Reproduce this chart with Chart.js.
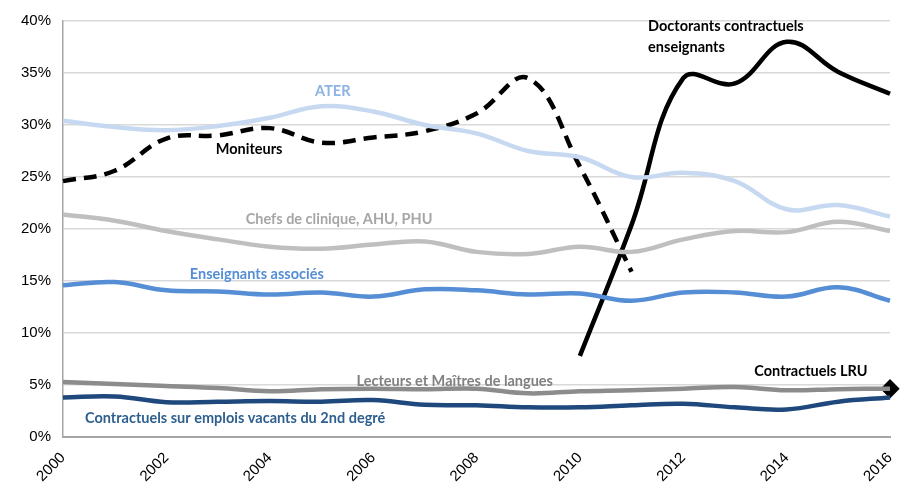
<!DOCTYPE html>
<html><head><meta charset="utf-8">
<script src="https://cdn.jsdelivr.net/npm/chart.js@4/dist/chart.umd.min.js"></script>
<style>html,body{margin:0;padding:0;background:#fff}#w{width:912px;height:488px}</style>
</head><body><div id="w"><canvas id="c" width="912" height="488"></canvas></div>
<script>
const years = ['2000','2001','2002','2003','2004','2005','2006','2007','2008','2009','2010','2011','2012','2013','2014','2015','2016'];
const yTicks = [0,5,10,15,20,25,30,35,40];
const ater = [30.4,29.8,29.5,29.9,30.7,31.8,31.3,30.0,29.2,27.5,26.9,25.0,25.4,24.6,21.9,22.3,21.2];
const moniteurs = [24.6,25.6,28.7,29.0,29.7,28.3,28.8,29.4,31.1,34.5,26.0,15.9,null,null,null,null,null];
const doctorants = [null,null,null,null,null,null,null,null,null,null,7.8,20.4,34.5,34.0,38.0,35.1,33.0];
const chefs = [21.4,20.8,19.8,19.0,18.3,18.1,18.5,18.8,17.8,17.6,18.3,17.8,19.0,19.8,19.7,20.7,19.8];
const associes = [14.6,14.9,14.1,14.0,13.7,13.9,13.5,14.2,14.1,13.7,13.8,13.1,13.9,13.9,13.5,14.4,13.1];
const lecteurs = [5.3,5.1,4.9,4.7,4.4,4.6,4.65,4.6,4.65,4.2,4.4,4.5,4.65,4.8,4.5,4.6,4.65];
const contractuels2nd = [3.8,3.9,3.35,3.4,3.45,3.4,3.55,3.1,3.05,2.85,2.85,3.05,3.2,2.85,2.65,3.4,3.8];
const lru = [null,null,null,null,null,null,null,null,null,null,null,null,null,null,null,null,4.64];

const labelsCfg = [
  {t:'ATER', x:5.22, y:33.2, c:'#8db3e2', a:'center'},
  {t:'Moniteurs', x:3.6, y:27.7, c:'#000000', a:'center'},
  {t:'Doctorants contractuels', x:11.32, y:39.5, c:'#000000', a:'left'},
  {t:'enseignants', x:11.32, y:37.5, c:'#000000', a:'left'},
  {t:'Chefs de clinique, AHU, PHU', x:5.34, y:20.95, c:'#a6a6a6', a:'center'},
  {t:'Enseignants associés', x:3.75, y:15.6, c:'#558ed5', a:'center'},
  {t:'Lecteurs et Maîtres de langues', x:7.58, y:5.33, c:'#808080', a:'center'},
  {t:'Contractuels LRU', x:14.47, y:6.29, c:'#000000', a:'center'},
  {t:'Contractuels sur emplois vacants du 2nd degré', x:3.33, y:1.81, c:'#2e5f8f', a:'center'}
];

const textPlugin = {
  id:'txt',
  afterDatasetsDraw(chart){
    const ctx = chart.ctx, xs = chart.scales.x, ys = chart.scales.y;
    ctx.save();
    ctx.font = 'bold 14.5px Lato, "Liberation Sans", sans-serif';
    ctx.textBaseline = 'middle';
    labelsCfg.forEach(l=>{
      ctx.fillStyle = l.c; ctx.textAlign = l.a;
      ctx.fillText(l.t, xs.getPixelForValue(l.x), ys.getPixelForValue(l.y));
    });
    ctx.restore();
  }
};

function ds(data, color, extra){
  return Object.assign({data, borderColor:color, backgroundColor:color, borderWidth:4.5, pointRadius:0, tension:0.4, fill:false, spanGaps:false, borderCapStyle:'butt'}, extra||{});
}

new Chart(document.getElementById('c'), {
  type:'line',
  data:{labels:years, datasets:[
    ds(ater,'#c6d9f1'),
    ds(chefs,'#bfbfbf'),
    ds(associes,'#558ed5'),
    ds(lecteurs,'#8c8c8c'),
    ds(contractuels2nd,'#1f497d'),
    ds(moniteurs,'#000000',{borderDash:[13,8]}),
    ds(doctorants,'#000000'),
    ds(lru,'#000000',{showLine:false,pointRadius:6.5,pointStyle:'rectRot',pointHoverRadius:6.5})
  ]},
  options:{
    responsive:false, animation:false,
    layout:{padding:{top:17,right:22,left:0,bottom:0}},
    plugins:{legend:{display:false},tooltip:{enabled:false}},
    scales:{
      x:{
        grid:{display:false},
        border:{display:true,color:'#a6a6a6',width:2},
        ticks:{color:'#000',font:{family:'"Liberation Sans", Arial, sans-serif',size:15},maxRotation:45,minRotation:45,autoSkip:false,padding:4,
          callback:(v,i)=> i%2===0 ? years[i] : null},
        afterFit:s=>{s.height=51;}
      },
      y:{
        min:0,max:40,
        afterBuildTicks:s=>{s.ticks=yTicks.map(v=>({value:v}));},
        grid:{color:'#d9d9d9',lineWidth:1.5,drawTicks:false},
        border:{display:true,color:'#a6a6a6',width:1.5},
        ticks:{color:'#000',font:{family:'"Liberation Sans", Arial, sans-serif',size:15},padding:12,callback:v=>v+'%'},
        afterFit:s=>{s.width=63;}
      }
    }
  },
  plugins:[textPlugin]
});
</script></body></html>
